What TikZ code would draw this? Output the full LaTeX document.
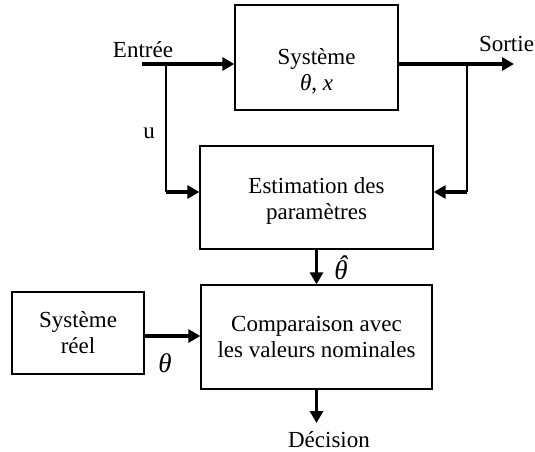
\documentclass[tikz,border=0pt]{standalone}
\usepackage{fontspec}
\setmainfont{Liberation Serif}
\usetikzlibrary{arrows.meta}
\newcommand{\thhat}{\ooalign{θ\cr\hidewidth\kern0.12em\raisebox{0.17em}{ˆ}\hidewidth\cr}}
\begin{document}
\begin{tikzpicture}[x=1pt,y=-1pt,
  box/.style={draw, line width=1.3pt, inner sep=0pt},
  txt/.style={font=\fontsize{23}{26}\selectfont, inner sep=0pt, align=center},
  sym/.style={font=\fontsize{27}{30}\selectfont\itshape, inner sep=0pt},
  thinline/.style={line width=1.3pt},
  thickarrow/.style={line width=3.2pt, -{Triangle[length=12pt,width=13pt]}},
]
\useasboundingbox (0,0) rectangle (535,452);
% boxes
\node[box, minimum width=163pt, minimum height=105pt] (sys) at (316.5,57.5) {};
\node[txt] (systxt) at (316.5,71) {Système\\{\itshape θ}, {\itshape x}};
\node[box, minimum width=233pt, minimum height=103pt] (est) at (316.5,197.5) {};
\node[txt] (esttxt) at (316.5,201) {Estimation des\\paramètres};
\node[box, minimum width=231pt, minimum height=104pt] (comp) at (316.5,337) {};
\node[txt] (comptxt) at (316.5,337) {Comparaison avec\\les valeurs nominales};
\node[box, minimum width=132pt, minimum height=82pt] (reel) at (78,333) {};
\node[txt] (reeltxt) at (78,332.5) {Système\\réel};
% labels
\node[txt, anchor=base] (entree) at (143,58) {Entrée};
\node[txt, anchor=base] (sortie) at (506.5,52) {Sortie};
\node[txt, anchor=base] (u) at (149,138) {u};
\node[sym, anchor=base] (thetahat) at (341,279) {\thhat};
\node[sym, anchor=base] (theta) at (165,372) {θ};
\node[txt, anchor=base] (decision) at (329,447) {Décision};
% coordinates
\coordinate (in) at (142,64);
\coordinate (ub) at (166,64);
\coordinate (uc) at (166,192);
\coordinate (out) at (514,64);
\coordinate (sb) at (467,64);
\coordinate (sc) at (467,192);
\coordinate (tr) at (144,336);
\coordinate (dc) at (316.5,423);
% connectors
\draw[thickarrow] (in) -- (sys.west |- in);
\draw[thickarrow] (sys.east |- out) -- (out);
\draw[thinline] (ub) -- (uc);
\draw[thickarrow] (uc) -- (est.west |- uc);
\draw[thinline] (sb) -- (sc);
\draw[thickarrow] (sc) -- (est.east |- sc);
\draw[thickarrow] (est.south) -- (comp.north);
\draw[thickarrow] (reel.east |- tr) -- (comp.west |- tr);
\draw[thickarrow] (comp.south) -- (dc);
\end{tikzpicture}
\end{document}
